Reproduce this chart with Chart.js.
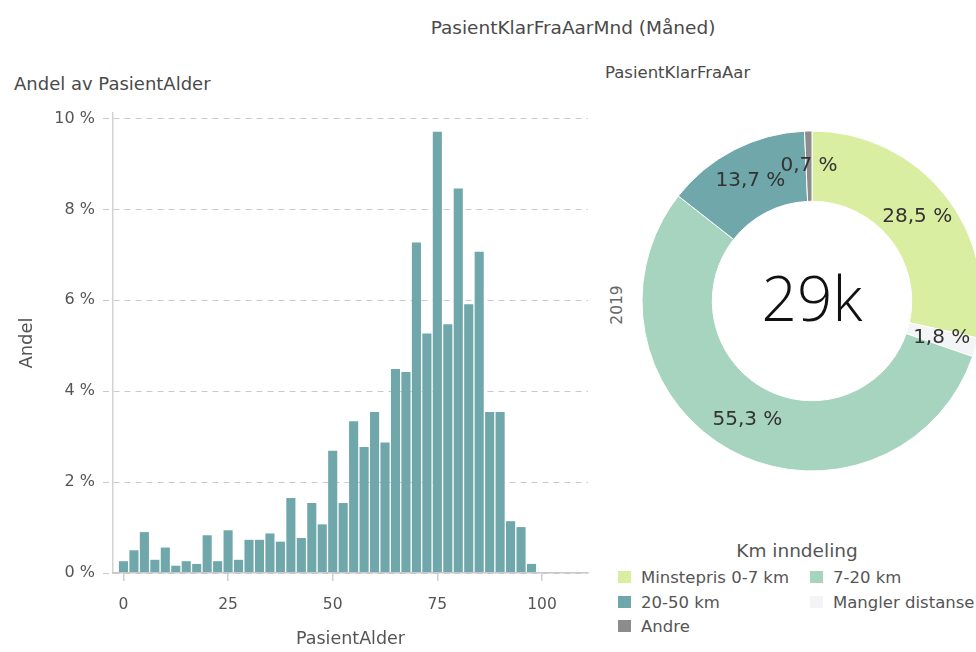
<!DOCTYPE html>
<html>
<head>
<meta charset="utf-8">
<script src="https://cdn.jsdelivr.net/npm/chart.js@4"></script>
<style>
  html, body { margin:0; padding:0; background:#fff; width:976px; height:652px; overflow:hidden; position:relative; font-family:"DejaVu Sans", sans-serif; color:#444; }
  .txt { position:absolute; white-space:nowrap; }
  #histo { position:absolute; left:0; top:95px; }
  #donut { position:absolute; left:612px; top:101px; }
  #legend { position:absolute; left:600px; top:538px; width:376px; }
  .lg-item { position:absolute; font-size:16.5px; line-height:20px; color:#555; white-space:nowrap; }
  .lg-sw { display:inline-block; width:13px; height:12px; margin-right:10px; vertical-align:0px; }
</style>
</head>
<body>
<div class="txt" style="left:0;width:1146px;text-align:center;top:17px;font-size:18.5px;line-height:22px;color:#4a4a4a;">PasientKlarFraAarMnd (Måned)</div>
<div class="txt" style="left:605px;top:63px;font-size:16.5px;line-height:20px;color:#4a4a4a;">PasientKlarFraAar</div>
<div class="txt" style="left:14px;top:73px;font-size:18px;line-height:22px;color:#4a4a4a;">Andel av PasientAlder</div>
<div class="txt" id="yearLbl" style="left:597px;top:295px;width:40px;text-align:center;font-size:15.5px;line-height:20px;color:#666;transform:rotate(-90deg);transform-origin:center;"></div>
<canvas id="histo" width="600" height="557"></canvas>
<canvas id="donut" width="400" height="400"></canvas>
<div id="legend"></div>
<script>
// ---- Histogram data (age bins of 2.5 years) ----
const ageBins = [0,2.5,5,7.5,10,12.5,15,17.5,20,22.5,25,27.5,30,32.5,35,37.5,40,42.5,45,47.5,50,52.5,55,57.5,60,62.5,65,67.5,70,72.5,75,77.5,80,82.5,85,87.5,90,92.5,95,97.5];
const andelValues = [0.26,0.50,0.90,0.29,0.56,0.16,0.26,0.20,0.83,0.26,0.94,0.29,0.73,0.73,0.87,0.69,1.65,0.77,1.54,1.07,2.69,1.54,3.34,2.77,3.54,2.87,4.49,4.42,7.27,5.27,9.71,5.47,8.46,5.91,7.07,3.54,3.54,1.14,1.01,0.20];
const xTickValues = [0,25,50,75,100];
const yTickValues = [0,2,4,6,8,10];

// ---- Donut data ----
const kmCategories = ["Minstepris 0-7 km","Mangler distanse","7-20 km","20-50 km","Andre"];
const kmShares = [28.5,1.8,55.3,13.7,0.7];
const kmColors = ["#d9eea1","#f3f4f6","#a6d4be","#6fa7ab","#8c8c8c"];
const legendOrder = ["Minstepris 0-7 km","7-20 km","20-50 km","Mangler distanse","Andre"];
const centerLabel = "29k";
const yearLabel = "2019";

const barColor = "#6fa7ab";
const fontFam = "'DejaVu Sans', sans-serif";

new Chart(document.getElementById('histo'), {
  type: 'bar',
  data: {
    datasets: [{
      data: ageBins.map((a, i) => ({x: a, y: andelValues[i]})),
      backgroundColor: barColor,
      borderWidth: 0,
      barPercentage: 0.87,
      categoryPercentage: 1.0
    }]
  },
  options: {
    responsive: false,
    devicePixelRatio: 1,
    animation: false,
    layout: { padding: { top: 18, right: 12, left: 0, bottom: 0 } },
    plugins: { legend: { display: false }, tooltip: { enabled: false } },
    scales: {
      x: {
        type: 'linear',
        offset: false,
        min: -2.5, max: 111,
        afterFit: s => { s.height = 79; },
        afterBuildTicks: s => { s.ticks = xTickValues.map(v => ({value: v})); },
        ticks: { font: { family: fontFam, size: 15.5 }, color: '#555', padding: 15, maxRotation: 0 },
        grid: { offset: false, drawOnChartArea: false, drawTicks: true, tickLength: 8, color: '#cfcfcf', lineWidth: 1.5 },
        border: { display: true, color: '#c8c8c8', width: 1.5, z: 1 },
        title: { display: true, text: 'PasientAlder', font: { family: fontFam, size: 17.5 }, color: '#555', padding: { top: 0, bottom: 2 } }
      },
      y: {
        min: 0, max: 10.12,
        afterFit: s => { s.width = 113; },
        afterBuildTicks: s => { s.ticks = yTickValues.map(v => ({value: v})); },
        ticks: { font: { family: fontFam, size: 16 }, color: '#555', padding: 8, callback: v => v + ' %' },
        grid: { color: '#c5cad3', lineWidth: 1, tickLength: 10, tickBorderDash: [6, 5] },
        border: { display: true, color: '#d2d2d2', width: 1.5, dash: [6, 5] },
        title: { display: true, text: 'Andel', font: { family: fontFam, size: 18 }, color: '#555', padding: { top: 17, bottom: 0 } }
      }
    }
  }
});

const donutLabels = {
  id: 'donutLabels',
  afterDatasetsDraw(chart) {
    const ctx = chart.ctx;
    const meta = chart.getDatasetMeta(0);
    ctx.save();
    ctx.textAlign = 'center';
    ctx.textBaseline = 'middle';
    ctx.fillStyle = '#333';
    ctx.font = "20px " + fontFam;
    meta.data.forEach((arc, i) => {
      const p = arc.tooltipPosition();
      ctx.fillText(kmShares[i].toFixed(1).replace('.', ',') + ' %', p.x, p.y);
    });
    const a = meta.data[0];
    ctx.fillStyle = '#111';
    ctx.font = "300 62px 'Open Sans', sans-serif";
    ctx.fillText(centerLabel, a.x, a.y + 2);
    ctx.restore();
  }
};

new Chart(document.getElementById('donut'), {
  type: 'doughnut',
  data: {
    labels: kmCategories,
    datasets: [{ data: kmShares, backgroundColor: kmColors, borderColor: '#ffffff', borderWidth: 1 }]
  },
  options: {
    responsive: false,
    devicePixelRatio: 1,
    animation: false,
    radius: 170,
    cutout: 117,
    plugins: { legend: { display: false }, tooltip: { enabled: false } }
  },
  plugins: [donutLabels]
});

document.getElementById('yearLbl').textContent = yearLabel;

// HTML legend built from the arrays
const lg = document.getElementById('legend');
const ttl = document.createElement('div');
ttl.className = 'lg-item';
ttl.style.cssText = 'left:0;width:394px;text-align:center;top:2px;font-size:18.5px;line-height:22px;';
ttl.textContent = 'Km inndeling';
lg.appendChild(ttl);
legendOrder.forEach((name, k) => {
  const i = kmCategories.indexOf(name);
  const col = k % 2, row = Math.floor(k / 2);
  const d = document.createElement('div');
  d.className = 'lg-item';
  d.style.left = (18 + col * 192) + 'px';
  d.style.top = (30 + row * 24.5) + 'px';
  const sw = document.createElement('span');
  sw.className = 'lg-sw';
  sw.style.background = kmColors[i];
  d.appendChild(sw);
  d.appendChild(document.createTextNode(name));
  lg.appendChild(d);
});
</script>
</body>
</html>
